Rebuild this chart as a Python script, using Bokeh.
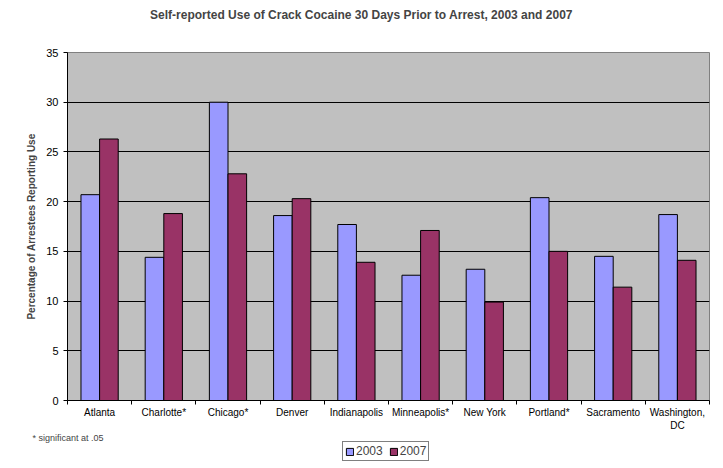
import numpy as np
from bokeh.plotting import figure
from bokeh.layouts import column
from bokeh.models import (FixedTicker, SingleIntervalTicker, Range1d, ColumnDataSource,
                          Legend, LegendItem, Label)
from bokeh.embed import file_html
from bokeh.resources import INLINE

cities = ["Atlanta", "Charlotte*", "Chicago*", "Denver", "Indianapolis",
          "Minneapolis*", "New York", "Portland*", "Sacramento", "Washington,\nDC"]
vals_2003 = [20.7, 14.4, 30.0, 18.6, 17.7, 12.6, 13.2, 20.4, 14.5, 18.7]
vals_2007 = [26.3, 18.8, 22.8, 20.3, 13.9, 17.1, 9.9, 15.0, 11.4, 14.1]
series = ["2003", "2007"]
colors = ["#9999FF", "#993366"]
title_text = "Self-reported Use of Crack Cocaine 30 Days Prior to Arrest, 2003 and 2007"
note_text = "* significant at .05"

FONT = "Liberation Sans"
W = 715
n = len(cities)
centers = np.arange(n) + 0.5
bw = 0.29


def blank(h):
    f = figure(width=W, height=h, output_backend="svg", toolbar_location=None,
               x_range=Range1d(0, W), y_range=Range1d(0, h),
               x_axis_location=None, y_axis_location=None, frame_align=False,
               min_border_left=0, min_border_right=0, min_border_top=0, min_border_bottom=0)
    f.grid.visible = False
    f.outline_line_color = None
    f.background_fill_color = "white"
    return f


# ---- header with title
HH = 30
head = blank(HH)
head.add_layout(Label(x=361, y=HH - 14, text=title_text, text_font=FONT, text_font_size="12px",
                      text_font_style="bold", text_align="center", text_baseline="middle"))

# ---- main chart
p = figure(width=W, height=403, output_backend="svg", toolbar_location=None, frame_align=False,
           x_range=Range1d(0, n), y_range=Range1d(0, 35),
           min_border_left=67, min_border_right=6, min_border_top=22, min_border_bottom=30)

r1 = p.vbar(x=centers - bw / 2, top=vals_2003, width=bw, bottom=0,
            fill_color=colors[0], line_color="black", line_width=1)
r2 = p.vbar(x=centers + bw / 2, top=vals_2007, width=bw, bottom=0,
            fill_color=colors[1], line_color="black", line_width=1)

p.background_fill_color = "#C0C0C0"
p.border_fill_color = "white"
p.outline_line_color = "#808080"
p.outline_line_width = 1

p.xgrid.visible = False
p.ygrid.grid_line_color = "black"
p.ygrid.grid_line_width = 1
p.ygrid.ticker = SingleIntervalTicker(interval=5)

p.xaxis.ticker = FixedTicker(ticks=list(centers), minor_ticks=list(range(n + 1)))
p.xaxis.major_label_overrides = {float(c): name for c, name in zip(centers, cities)}
p.xaxis.major_tick_out = 0
p.xaxis.major_tick_in = 0
p.xaxis.minor_tick_out = 4
p.xaxis.minor_tick_in = 0
p.xaxis.major_label_standoff = 2
p.xaxis.major_label_text_font = FONT
p.xaxis.major_label_text_font_size = "10px"
p.xaxis.major_label_text_color = "black"
p.xaxis.axis_line_color = "black"
p.xaxis.minor_tick_line_color = "black"

p.yaxis.ticker = SingleIntervalTicker(interval=5)
p.yaxis.minor_tick_line_color = None
p.yaxis.major_tick_out = 4
p.yaxis.major_tick_in = 0
p.yaxis.major_label_standoff = 5
p.yaxis.major_label_text_font = FONT
p.yaxis.major_label_text_font_size = "11px"
p.yaxis.major_label_text_color = "black"
p.yaxis.axis_line_color = "black"
p.yaxis.major_tick_line_color = "black"
p.yaxis.axis_label = "Percentage of Arrestees Reporting Use"
p.yaxis.axis_label_text_font = FONT
p.yaxis.axis_label_text_font_size = "10px"
p.yaxis.axis_label_text_font_style = "bold"
p.yaxis.axis_label_standoff = 6

# ---- footer with note and legend
FH = 35
foot = blank(FH)
foot.add_layout(Label(x=32, y=FH - 4, text=note_text, text_font=FONT, text_font_size="9px",
                      text_align="left", text_baseline="middle"))
key_src = ColumnDataSource(dict(x=list(centers), v03=vals_2003, v07=vals_2007))
l1 = foot.vbar(x="x", top="v03", width=bw, source=key_src, visible=False,
               fill_color=colors[0], line_color="black")
l2 = foot.vbar(x="x", top="v07", width=bw, source=key_src, visible=False,
               fill_color=colors[1], line_color="black")
legend = Legend(items=[LegendItem(label=series[0], renderers=[l1]),
                       LegendItem(label=series[1], renderers=[l2])],
                orientation="horizontal", location=(342, 7),
                border_line_color="black", border_line_width=1,
                background_fill_color="white", background_fill_alpha=1,
                inactive_fill_alpha=0,
                label_text_font=FONT, label_text_font_size="12px",
                glyph_width=9, glyph_height=9, label_standoff=2, spacing=6,
                padding=2, margin=0, label_height=12)
foot.add_layout(legend, "center")

layout = column(head, p, foot, spacing=0)
open("out.html", "w").write(file_html(layout, INLINE))
